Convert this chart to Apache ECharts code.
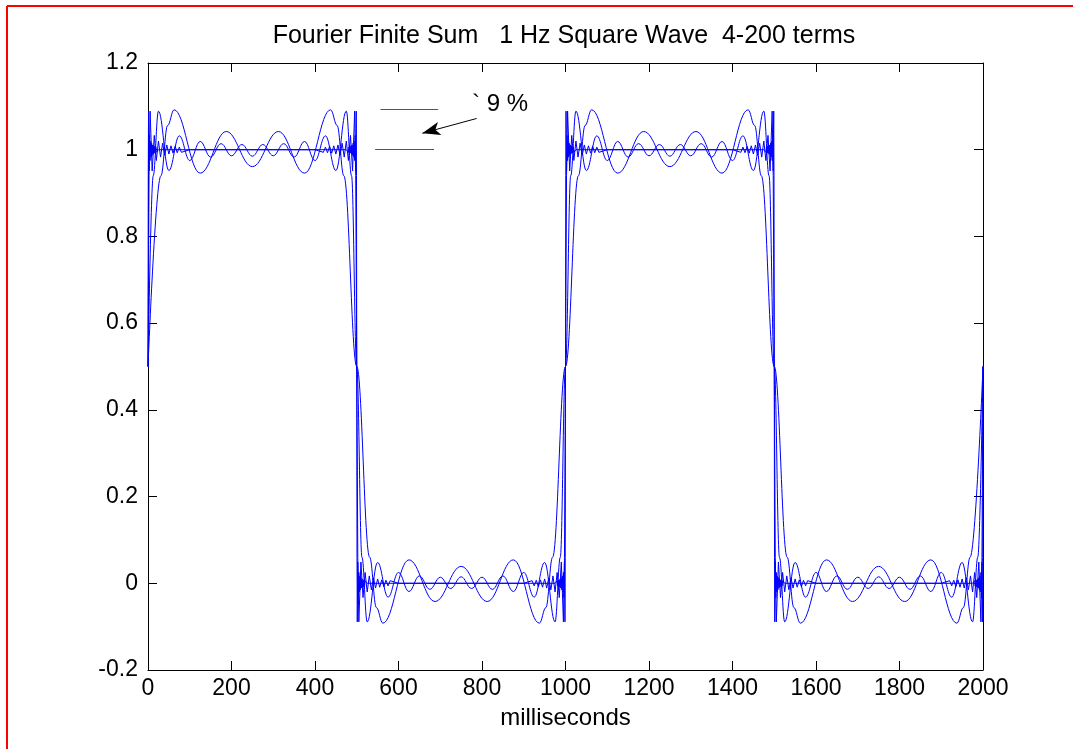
<!DOCTYPE html>
<html>
<head>
  <meta charset="utf-8">
  <style>
    html, body { margin: 0; padding: 0; width: 100%; height: 100%; overflow: hidden; background: #fff; }
  </style>
  <script src="https://cdn.jsdelivr.net/npm/echarts@6/dist/echarts.min.js"></script>
</head>
<body>
  <div id="container" style="width: 1073px; height: 749px;"></div>
  <script>
    // one period (0..1000 ms) of each finite sum as [ms, value]
    const periodMs = 1000;
    const periodCount = 2;

    const sum4 = [
      [0, 0.5], [31, 0.94], [47, 1.056], [62.5, 1.092], [125, 0.946], [187.5, 1.042], [250, 0.961],
      [312.5, 1.042], [375, 0.946], [437.5, 1.092], [453, 1.056], [469, 0.94], [500, 0.5],
      [531, 0.06], [547, -0.056], [562.5, -0.092], [625, 0.054], [687.5, -0.042], [750, 0.039],
      [812.5, -0.042], [875, 0.054], [937.5, -0.092], [953, -0.056], [969, 0.06], [1000, 0.5]
    ];

    const sum10 = [
      [0, 0.5], [12.5, 0.94], [25, 1.089], [50, 0.952], [75, 1.032], [100, 0.975], [125, 1.019],
      [150, 0.983], [175, 1.014], [200, 0.986], [225, 1.012], [250, 0.985], [275, 1.012],
      [300, 0.986], [325, 1.014], [350, 0.983], [375, 1.019], [400, 0.975], [425, 1.032],
      [450, 0.952], [475, 1.089], [487.5, 0.94], [500, 0.5],
      [512.5, 0.06], [525, -0.089], [550, 0.048], [575, -0.032], [600, 0.025], [625, -0.019],
      [650, 0.017], [675, -0.014], [700, 0.014], [725, -0.012], [750, 0.015], [775, -0.012],
      [800, 0.014], [825, -0.014], [850, 0.017], [875, -0.019], [900, 0.025], [925, -0.032],
      [950, 0.048], [975, -0.089], [987.5, 0.06], [1000, 0.5]
    ];

    const sum50 = [
      [0, 0.5], [2.5, 0.94], [5, 1.089], [10, 0.951], [15, 1.033], [20, 0.975], [25, 1.02],
      [30, 0.983], [35, 1.015], [40, 0.987], [45, 1.011], [50, 0.99], [55, 1.009], [60, 0.992],
      [65, 1.008], [70, 0.993], [75, 1.006], [80, 0.994], [100, 1.0], [400, 1.0],
      [420, 0.994], [425, 1.006], [430, 0.993], [435, 1.008], [440, 0.992], [445, 1.009],
      [450, 0.99], [455, 1.011], [460, 0.987], [465, 1.015], [470, 0.983], [475, 1.02],
      [480, 0.975], [485, 1.033], [490, 0.951], [495, 1.089], [497.5, 0.94], [500, 0.5],
      [502.5, 0.06], [505, -0.089], [510, 0.049], [515, -0.033], [520, 0.025], [525, -0.02],
      [530, 0.017], [535, -0.015], [540, 0.013], [545, -0.011], [550, 0.01], [555, -0.009],
      [560, 0.008], [565, -0.008], [570, 0.007], [575, -0.006], [580, 0.006], [600, 0.0],
      [900, 0.0], [920, 0.006], [925, -0.006], [930, 0.007], [935, -0.008], [940, 0.008],
      [945, -0.009], [950, 0.01], [955, -0.011], [960, 0.013], [965, -0.015], [970, 0.017],
      [975, -0.02], [980, 0.025], [985, -0.033], [990, 0.049], [995, -0.089], [997.5, 0.06],
      [1000, 0.5]
    ];

    const sum200 = [
      [0, 0.5], [0.6, 0.94], [1.25, 1.089], [2.5, 0.951], [3.75, 1.033], [5, 0.975], [6.25, 1.02],
      [7.5, 0.983], [8.75, 1.015], [10, 0.987], [11.25, 1.011], [12.5, 0.99], [13.75, 1.009],
      [15, 0.992], [16.25, 1.008], [17.5, 0.993], [18.75, 1.006], [20, 0.994], [25, 1.0],
      [475, 1.0], [480, 0.994], [481.25, 1.006], [482.5, 0.993], [483.75, 1.008], [485, 0.992],
      [486.25, 1.009], [487.5, 0.99], [488.75, 1.011], [490, 0.987], [491.25, 1.015],
      [492.5, 0.983], [493.75, 1.02], [495, 0.975], [496.25, 1.033], [497.5, 0.951],
      [498.75, 1.089], [499.4, 0.94], [500, 0.5],
      [500.6, 0.06], [501.25, -0.089], [502.5, 0.049], [503.75, -0.033], [505, 0.025],
      [506.25, -0.02], [507.5, 0.017], [508.75, -0.015], [510, 0.013], [511.25, -0.011],
      [512.5, 0.01], [513.75, -0.009], [515, 0.008], [516.25, -0.008], [517.5, 0.007],
      [518.75, -0.006], [520, 0.006], [525, 0.0], [975, 0.0], [980, 0.006], [981.25, -0.006],
      [982.5, 0.007], [983.75, -0.008], [985, 0.008], [986.25, -0.009], [987.5, 0.01],
      [988.75, -0.011], [990, 0.013], [991.25, -0.015], [992.5, 0.017], [993.75, -0.02],
      [995, 0.025], [996.25, -0.033], [997.5, 0.049], [998.75, -0.089], [999.4, 0.06],
      [1000, 0.5]
    ];

    const xTicks = { min: 0, max: 2000, interval: 200 };
    const yTicks = { min: -0.2, max: 1.2, interval: 0.2 };

    const font = "'Liberation Sans', Arial, sans-serif";
    const curveColor = '#0000ff';

    // the plot shows the same period twice
    function repeatPeriods(period) {
      const out = [];
      for (let p = 0; p < periodCount; p++) {
        period.forEach(function (pt, i) {
          if (p > 0 && i === 0) return;
          out.push([pt[0] + p * periodMs, pt[1]]);
        });
      }
      return out;
    }

    function curve(name, period, smooth) {
      return {
        name: name,
        type: 'line',
        data: repeatPeriods(period),
        showSymbol: false,
        symbol: 'none',
        smooth: smooth,
        smoothMonotone: 'x',
        lineStyle: { color: curveColor, width: 1 },
        silent: true
      };
    }

    function frameAxis(pos, ticks, showLabels) {
      return {
        type: 'value',
        position: pos,
        min: ticks.min,
        max: ticks.max,
        interval: ticks.interval,
        axisLine: { show: true, onZero: false, lineStyle: { color: '#000', width: 1 } },
        axisTick: { show: true, inside: true, length: 9, lineStyle: { color: '#000' } },
        axisLabel: {
          show: showLabels, color: '#000', fontSize: 23, fontFamily: font, margin: 10,
          formatter: function (v) { return String(Math.round(v * 10) / 10); }
        },
        splitLine: { show: false }
      };
    }

    var dom = document.getElementById('container');
    var myChart = echarts.init(dom, null, { renderer: 'canvas' });

    var xBottom = frameAxis('bottom', xTicks, true);
    xBottom.axisLabel.margin = 7;
    xBottom.name = 'milliseconds';
    xBottom.nameLocation = 'middle';
    xBottom.nameGap = 36;
    xBottom.nameTextStyle = { color: '#000', fontSize: 24, fontFamily: font };

    var yLeft = frameAxis('left', yTicks, true);

    var s4 = curve('4 terms', sum4, 0.4);
    s4.markLine = {
      silent: true,
      symbol: ['none', 'none'],
      label: { show: false },
      data: [
        [
          { coord: [557, 1.094], lineStyle: { type: 'solid', color: '#555', width: 1 } },
          { coord: [695, 1.094] }
        ],
        [
          { coord: [544, 1.0], lineStyle: { type: 'solid', color: '#555', width: 1 } },
          { coord: [685, 1.0] }
        ],
        [
          { coord: [787, 1.072], symbol: 'none', lineStyle: { type: 'solid', color: '#000', width: 1 } },
          { coord: [657, 1.038], symbol: 'arrow', symbolSize: [10, 18] }
        ]
      ]
    };

    var option = {
      animation: false,
      backgroundColor: '#fff',
      title: {
        text: 'Fourier Finite Sum   1 Hz Square Wave  4-200 terms',
        left: 564,
        textAlign: 'center',
        top: 24,
        padding: 0,
        textStyle: { color: '#000', fontSize: 25, fontWeight: 'normal', fontFamily: font }
      },
      grid: { left: 148, right: 90, top: 63, bottom: 79, containLabel: false },
      xAxis: [xBottom, frameAxis('top', xTicks, false)],
      yAxis: [yLeft, frameAxis('right', yTicks, false)],
      series: [
        s4,
        curve('10 terms', sum10, 0.4),
        curve('50 terms', sum50, false),
        curve('200 terms', sum200, false)
      ],
      graphic: [
        { type: 'line', shape: { x1: 7, y1: 6, x2: 1073, y2: 6 }, style: { stroke: '#ff0000', lineWidth: 2 }, silent: true },
        { type: 'line', shape: { x1: 7, y1: 6, x2: 7, y2: 749 }, style: { stroke: '#ff0000', lineWidth: 2 }, silent: true },
        { type: 'text', left: 472, top: 92, style: { text: '` 9 %', fill: '#000', fontSize: 24, fontFamily: font }, silent: true }
      ]
    };

    myChart.setOption(option);
    window.addEventListener('resize', myChart.resize);
  </script>
</body>
</html>
